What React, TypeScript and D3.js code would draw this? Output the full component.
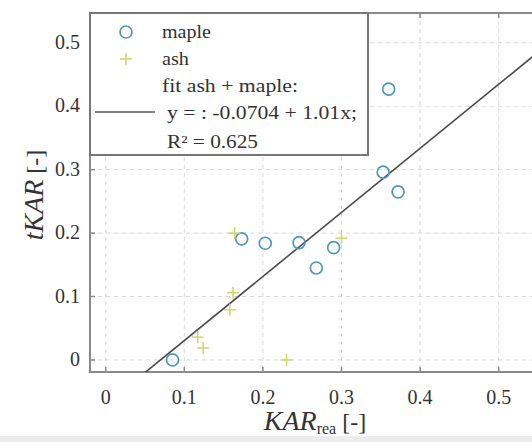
import React from "react";
import * as d3 from "d3";

const mapleX = [0.085, 0.173, 0.203, 0.246, 0.268, 0.29, 0.353, 0.36, 0.372];
const mapleY = [0.0, 0.191, 0.184, 0.185, 0.145, 0.177, 0.296, 0.427, 0.265];
const ashX = [0.164, 0.162, 0.158, 0.117, 0.124, 0.23, 0.3];
const ashY = [0.2, 0.106, 0.079, 0.036, 0.019, 0.0, 0.192];
const fitIntercept = -0.0704;
const fitSlope = 1.01;
const xTicks = [0, 0.1, 0.2, 0.3, 0.4, 0.5];
const yTicks = [0, 0.1, 0.2, 0.3, 0.4, 0.5];
const legendLabels = ["maple", "ash", "fit ash + maple:", "y = : -0.0704 + 1.01x;", "R² = 0.625"];

const W = 532;
const H = 442;
const L = 90, R = 538, T = 13, B = 372;

export default function App() {
  const x = d3.scaleLinear().domain([-0.02, 0.55]).range([L, R]);
  const y = d3.scaleLinear().domain([-0.019, 0.547]).range([B, T]);
  const fitXs = [-0.02, 0.56];
  const line = d3
    .line<number>()
    .x((d) => x(d))
    .y((d) => y(fitIntercept + fitSlope * d));
  const font = "'Liberation Serif', 'DejaVu Serif', serif";
  const maple = "#4f97c2";
  const ash = "#cdd668";
  const axisCol = "#8a8a8a";
  const textCol = "#333";
  const legendRows = [
    { x: 162, y: 38, len: 49 },
    { x: 162, y: 65, len: 27 },
    { x: 162, y: 92, len: 136 },
    { x: 167, y: 119, len: 190 },
    { x: 167, y: 148, len: 91 },
  ];
  return (
    <svg
      width={W}
      height={H}
      style={{ position: "absolute", left: 0, top: 0, background: "#fff" }}
      fontFamily={font}
    >
      <defs>
        <clipPath id="plot">
          <rect x={L} y={T} width={R - L} height={B - T} />
        </clipPath>
      </defs>
      <rect x={0} y={0} width={W} height={H} fill="#fff" />
      <rect x={0} y={436} width={W} height={6} fill="#ececec" />
      {xTicks.map((t) => (
        <line key={"gx" + t} x1={x(t)} x2={x(t)} y1={T} y2={B} stroke="#d8d8d8" strokeWidth={1} strokeDasharray="4,4" />
      ))}
      {yTicks.map((t) => (
        <line key={"gy" + t} x1={L} x2={R} y1={y(t)} y2={y(t)} stroke="#d8d8d8" strokeWidth={1} strokeDasharray="4,4" />
      ))}
      <rect x={L} y={T} width={R - L} height={B - T} fill="none" stroke={axisCol} strokeWidth={2} />
      {xTicks.map((t) => (
        <g key={"tx" + t}>
          <line x1={x(t)} x2={x(t)} y1={B} y2={B - 5} stroke={axisCol} strokeWidth={1.5} />
          <line x1={x(t)} x2={x(t)} y1={T} y2={T + 5} stroke={axisCol} strokeWidth={1.5} />
          <text x={x(t)} y={404} textAnchor="middle" fontSize={20} fill={textCol}>
            {d3.format("")(t)}
          </text>
        </g>
      ))}
      {yTicks.map((t) => (
        <g key={"ty" + t}>
          <line x1={L} x2={L + 5} y1={y(t)} y2={y(t)} stroke={axisCol} strokeWidth={1.5} />
          <text x={80} y={y(t) + 6} textAnchor="end" fontSize={20} fill={textCol}>
            {d3.format("")(t)}
          </text>
        </g>
      ))}
      <g clipPath="url(#plot)">
        <path d={line(fitXs) || ""} fill="none" stroke="#4a4a4a" strokeWidth={1.6} />
        {mapleX.map((v, i) => (
          <circle key={"m" + i} cx={x(v)} cy={y(mapleY[i])} r={6} fill="none" stroke={maple} strokeWidth={1.7} />
        ))}
        {ashX.map((v, i) => (
          <g key={"a" + i} stroke={ash} strokeWidth={1.5}>
            <line x1={x(v) - 6} x2={x(v) + 6} y1={y(ashY[i])} y2={y(ashY[i])} />
            <line x1={x(v)} x2={x(v)} y1={y(ashY[i]) - 6} y2={y(ashY[i]) + 6} />
          </g>
        ))}
      </g>
      <rect x={L} y={T} width={278} height={142} fill="#fff" stroke="#777" strokeWidth={2} />
      <circle cx={126} cy={32} r={6} fill="none" stroke={maple} strokeWidth={1.7} />
      <g stroke={ash} strokeWidth={1.5}>
        <line x1={120} x2={132} y1={59} y2={59} />
        <line x1={126} x2={126} y1={53} y2={65} />
      </g>
      <line x1={95} x2={155} y1={112} y2={112} stroke="#555" strokeWidth={1.6} />
      {legendLabels.map((s, i) => (
        <text
          key={"lg" + i}
          x={legendRows[i].x}
          y={legendRows[i].y}
          fontSize={18}
          fill={textCol}
          textLength={legendRows[i].len}
          lengthAdjust="spacingAndGlyphs"
        >
          {s}
        </text>
      ))}
      <text transform="translate(43,195) rotate(-90)" textAnchor="middle" fontSize={28} fill={textCol}>
        <tspan fontStyle="italic">tKAR</tspan>
        <tspan fontSize={24}> [-]</tspan>
      </text>
      <text x={315} y={430} textAnchor="middle" fontSize={28} fill={textCol}>
        <tspan fontStyle="italic">KAR</tspan>
        <tspan fontSize={16} dy={4}>rea</tspan>
        <tspan fontSize={24} dy={-4}> [-]</tspan>
      </text>
    </svg>
  );
}
